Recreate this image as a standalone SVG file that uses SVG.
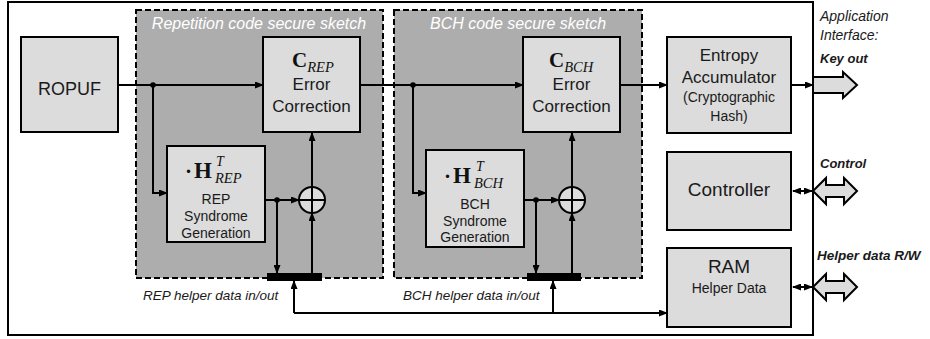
<svg xmlns="http://www.w3.org/2000/svg" width="930" height="339" viewBox="0 0 930 339">
<defs>
<marker id="arr" markerWidth="9" markerHeight="7" refX="8" refY="3.5" orient="auto-start-reverse" markerUnits="userSpaceOnUse">
<path d="M0,0 L9,3.5 L0,7 z" fill="#000"/>
</marker>
<style>
.box{fill:#dcdcdc;stroke:#000;stroke-width:2}
.region{fill:#adadad;stroke:#000;stroke-width:2;stroke-dasharray:6 3}
.ln{fill:none;stroke:#000;stroke-width:2}
.a{marker-end:url(#arr)}
.sans{font-family:"Liberation Sans",Arial,sans-serif;fill:#1a1a1a}
.mid{text-anchor:middle}
.it{font-style:italic}
.bi{font-style:italic;font-weight:bold}
.serif{font-family:"Liberation Serif","Times New Roman",serif;fill:#111}
.fat{fill:#dcdcdc;stroke:#000;stroke-width:2;stroke-linejoin:miter}
</style>
</defs>
<rect width="930" height="339" fill="#fff"/>
<rect x="8" y="2" width="805" height="333" fill="#fff" stroke="#000" stroke-width="2"/>

<g id="rep-region">
<rect class="region" x="136" y="10" width="247" height="268"/>
<text class="sans it mid" x="259" y="29" font-size="16" style="fill:#fff">Repetition code secure sketch</text>
</g>
<g id="bch-region">
<rect class="region" x="394" y="10" width="248" height="268"/>
<text class="sans it mid" x="518" y="29" font-size="16" style="fill:#fff">BCH code secure sketch</text>
</g>

<g id="ropuf">
<rect class="box" x="21" y="37" width="97" height="95"/>
<text class="sans mid" x="69.5" y="95" font-size="18">ROPUF</text>
</g>

<g id="c-rep">
<rect class="box" x="263" y="37" width="97" height="95"/>
<text class="serif" x="292" y="67"><tspan font-weight="bold" font-size="21">C</tspan><tspan font-style="italic" font-size="14.5" dy="5">REP</tspan></text>
<text class="sans mid" x="311.5" y="90" font-size="17">Error</text>
<text class="sans mid" x="311.5" y="112" font-size="17">Correction</text>
</g>

<g id="h-rep">
<rect class="box" x="167" y="146" width="98" height="96"/>
<text class="serif" font-weight="bold"><tspan x="185" y="178" font-size="21">·</tspan><tspan x="194" y="178" font-size="23">H</tspan><tspan x="216" y="166" font-size="14" font-weight="normal" font-style="italic">T</tspan><tspan x="215" y="183" font-size="14.5" font-weight="normal" font-style="italic">REP</tspan></text>
<text class="sans mid" x="216" y="204" font-size="14">REP</text>
<text class="sans mid" x="216" y="221" font-size="14">Syndrome</text>
<text class="sans mid" x="216" y="238" font-size="14">Generation</text>
</g>

<g id="xor-rep">
<circle cx="312" cy="200" r="13" fill="#dcdcdc" stroke="#000" stroke-width="2"/>
<path class="ln" d="M299,200 H325 M312,187 V213"/>
</g>
<g id="bar-rep"><rect x="267" y="273" width="55" height="8" fill="#000"/></g>

<g id="c-bch">
<rect class="box" x="523" y="37" width="97" height="95"/>
<text class="serif" x="549" y="67"><tspan font-weight="bold" font-size="21">C</tspan><tspan font-style="italic" font-size="14.5" dy="5">BCH</tspan></text>
<text class="sans mid" x="571.5" y="90" font-size="17">Error</text>
<text class="sans mid" x="571.5" y="112" font-size="17">Correction</text>
</g>

<g id="h-bch">
<rect class="box" x="426" y="150" width="98" height="97"/>
<text class="serif" font-weight="bold"><tspan x="444" y="183" font-size="21">·</tspan><tspan x="453" y="183" font-size="23">H</tspan><tspan x="476" y="171" font-size="14" font-weight="normal" font-style="italic">T</tspan><tspan x="474" y="188" font-size="14.5" font-weight="normal" font-style="italic">BCH</tspan></text>
<text class="sans mid" x="475" y="209" font-size="14">BCH</text>
<text class="sans mid" x="475" y="226" font-size="14">Syndrome</text>
<text class="sans mid" x="475" y="242" font-size="14">Generation</text>
</g>

<g id="xor-bch">
<circle cx="572" cy="200" r="13" fill="#dcdcdc" stroke="#000" stroke-width="2"/>
<path class="ln" d="M559,200 H585 M572,187 V213"/>
</g>
<g id="bar-bch"><rect x="527" y="273" width="54" height="8" fill="#000"/></g>

<g id="entropy">
<rect class="box" x="667" y="37" width="124" height="96"/>
<text class="sans mid" x="729" y="61" font-size="17">Entropy</text>
<text class="sans mid" x="729" y="83" font-size="17">Accumulator</text>
<text class="sans mid" x="729" y="102" font-size="14">(Cryptographic</text>
<text class="sans mid" x="729" y="121" font-size="14">Hash)</text>
</g>

<g id="controller">
<rect class="box" x="667" y="152" width="124" height="78"/>
<text class="sans mid" x="729" y="196" font-size="19">Controller</text>
</g>

<g id="ram">
<rect class="box" x="667" y="248" width="124" height="79"/>
<text class="sans mid" x="729" y="273" font-size="19">RAM</text>
<text class="sans mid" x="729" y="293" font-size="14">Helper Data</text>
</g>

<g id="key-out">
<polygon class="fat" points="813,77 843,77 843,72 857,85 843,98 843,93 813,93"/>
</g>
<g id="control-port">
<polygon class="fat" points="813,191 826,178 826,185 844,185 844,178 857,191 844,204 844,197 826,197 826,204"/>
</g>
<g id="helper-port">
<polygon class="fat" points="813,287 826,274 826,281 844,281 844,274 857,287 844,300 844,293 826,293 826,300"/>
</g>

<g id="labels">
<text class="sans it" x="820" y="21" font-size="14">Application</text>
<text class="sans it" x="820" y="40" font-size="14">Interface:</text>
<text class="sans bi" x="820" y="63" font-size="13">Key out</text>
<text class="sans bi" x="820" y="168" font-size="13">Control</text>
<text class="sans bi" x="817" y="260" font-size="13.5">Helper data R/W</text>
<text class="sans it" x="143" y="300" font-size="13.5">REP helper data in/out</text>
<text class="sans it" x="403" y="300" font-size="13.5">BCH helper data in/out</text>
</g>

<g id="connectors">
<path class="ln a" d="M118,85 H263"/>
<path class="ln a" d="M153,85 V193 H167"/>
<path class="ln a" d="M265,200 H299"/>
<path class="ln a" d="M277,200 V273"/>
<path class="ln a" d="M312,187 V133"/>
<path class="ln a" d="M312,273 V213"/>
<path class="ln a" d="M294,313 V281"/>
<path class="ln a" d="M294,313 H667"/>
<path class="ln a" d="M360,85 H523"/>
<path class="ln a" d="M413,85 V193 H426"/>
<path class="ln a" d="M524,200 H559"/>
<path class="ln a" d="M536,200 V273"/>
<path class="ln a" d="M572,187 V133"/>
<path class="ln a" d="M572,273 V213"/>
<path class="ln a" d="M553,313 V281"/>
<path class="ln a" d="M620,85 H667"/>
<path class="ln a" d="M791,85 H813"/>
<path class="ln a" d="M793,191 H812" marker-start="url(#arr)"/>
<path class="ln a" d="M793,287 H812" marker-start="url(#arr)"/>
<circle cx="153" cy="85" r="2.8"/>
<circle cx="277" cy="200" r="2.8"/>
<circle cx="413" cy="85" r="2.8"/>
<circle cx="536" cy="200" r="2.8"/>
</g>
</svg>
